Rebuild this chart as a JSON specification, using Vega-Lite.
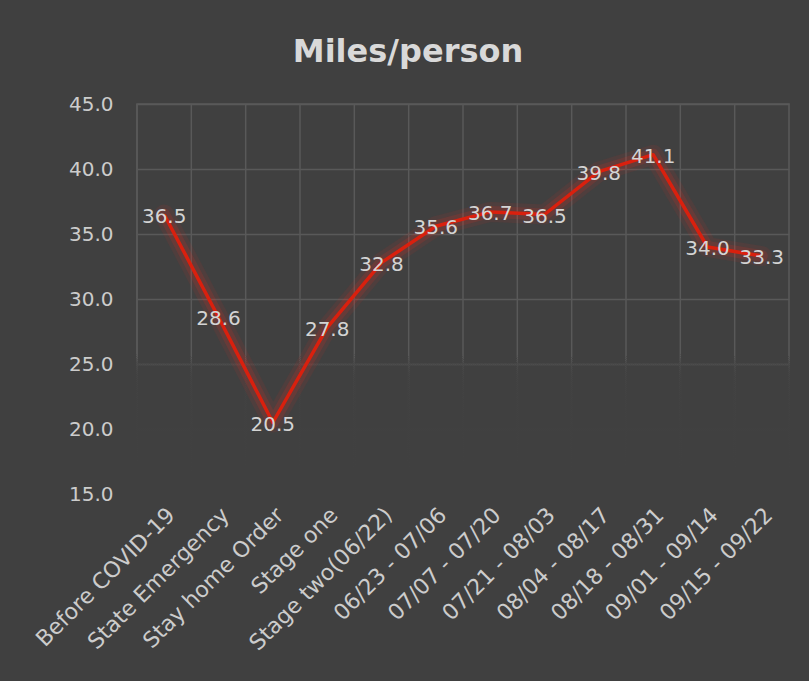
{
  "$schema": "https://vega.github.io/schema/vega-lite/v6.json",
  "width": 652,
  "height": 390,
  "autosize": {"type": "none"},
  "padding": {"left": 137, "top": 104, "right": 20, "bottom": 187},
  "background": "#404040",
  "title": {
    "text": "Miles/person",
    "fontSize": 32,
    "fontWeight": "bold",
    "font": "DejaVu Sans",
    "color": "#d9d9d9",
    "anchor": "middle",
    "offset": 25,
    "dx": -55
  },
  "config": {
    "view": {"stroke": "#595959", "strokeWidth": 1.5},
    "axis": {"labelFont": "DejaVu Sans", "labelColor": "#cccccc", "labelFontSize": 20, "labelLimit": 400, "domain": false, "ticks": false, "title": null}
  },
  "data": {
    "values": [
      {"period": "Before COVID-19", "miles": 36.5},
      {"period": "State Emergency", "miles": 28.6},
      {"period": "Stay home Order", "miles": 20.5},
      {"period": "Stage one", "miles": 27.8},
      {"period": "Stage two(06/22)", "miles": 32.8},
      {"period": "06/23 - 07/06", "miles": 35.6},
      {"period": "07/07 - 07/20", "miles": 36.7},
      {"period": "07/21 - 08/03", "miles": 36.5},
      {"period": "08/04 - 08/17", "miles": 39.8},
      {"period": "08/18 - 08/31", "miles": 41.1},
      {"period": "09/01 - 09/14", "miles": 34.0},
      {"period": "09/15 - 09/22", "miles": 33.3}
    ]
  },
  "encoding": {
    "x": {
      "field": "period",
      "type": "nominal",
      "sort": null,
      "scale": {"paddingInner": 0, "paddingOuter": 0},
      "axis": {"labelAngle": -45, "labelPadding": 10, "labelFontSize": 22, "labelLimit": 400, "grid": false}
    }
  },
  "layer": [
    {
      "mark": {"type": "rule", "color": "#595959", "strokeWidth": 1.5},
      "encoding": {
        "x": {"field": "period", "type": "nominal", "sort": null, "bandPosition": 0}
      }
    },
    {
      "mark": {
        "type": "rect",
        "fill": {
          "gradient": "linear",
          "x1": 0, "y1": 0, "x2": 0, "y2": 1,
          "stops": [
            {"offset": 0, "color": "rgba(64,64,64,0)"},
            {"offset": 0.55, "color": "rgba(64,64,64,0.55)"},
            {"offset": 0.82, "color": "rgba(64,64,64,1)"},
            {"offset": 1, "color": "rgba(64,64,64,1)"}
          ]
        }
      },
      "encoding": {
        "x": {"value": -3},
        "x2": {"value": 655},
        "y": {"datum": 25.8, "type": "quantitative"},
        "y2": {"datum": 14.7}
      }
    },
    {
      "mark": {"type": "line", "color": "#ff2a1a", "strokeWidth": 20, "opacity": 0.08, "strokeJoin": "round", "strokeCap": "round"},
      "encoding": {"y": {"field": "miles", "type": "quantitative"}}
    },
    {
      "mark": {"type": "line", "color": "#ff2a1a", "strokeWidth": 12, "opacity": 0.14, "strokeJoin": "round", "strokeCap": "round"},
      "encoding": {"y": {"field": "miles", "type": "quantitative"}}
    },
    {
      "mark": {"type": "line", "color": "#d9200e", "strokeWidth": 3.5, "strokeJoin": "round"},
      "encoding": {
        "y": {
          "field": "miles",
          "type": "quantitative",
          "scale": {"domain": [15, 45], "nice": false, "zero": false},
          "axis": {"values": [15, 20, 25, 30, 35, 40, 45], "format": ".1f", "labelPadding": 24, "grid": true, "gridColor": "#595959", "gridWidth": 1.5}
        }
      }
    },
    {
      "mark": {"type": "text", "font": "DejaVu Sans", "fontSize": 20, "color": "#d4d4d4", "align": "center", "baseline": "middle", "dy": 2},
      "encoding": {
        "y": {"field": "miles", "type": "quantitative"},
        "text": {"field": "miles", "type": "quantitative", "format": ".1f"}
      }
    }
  ]
}
